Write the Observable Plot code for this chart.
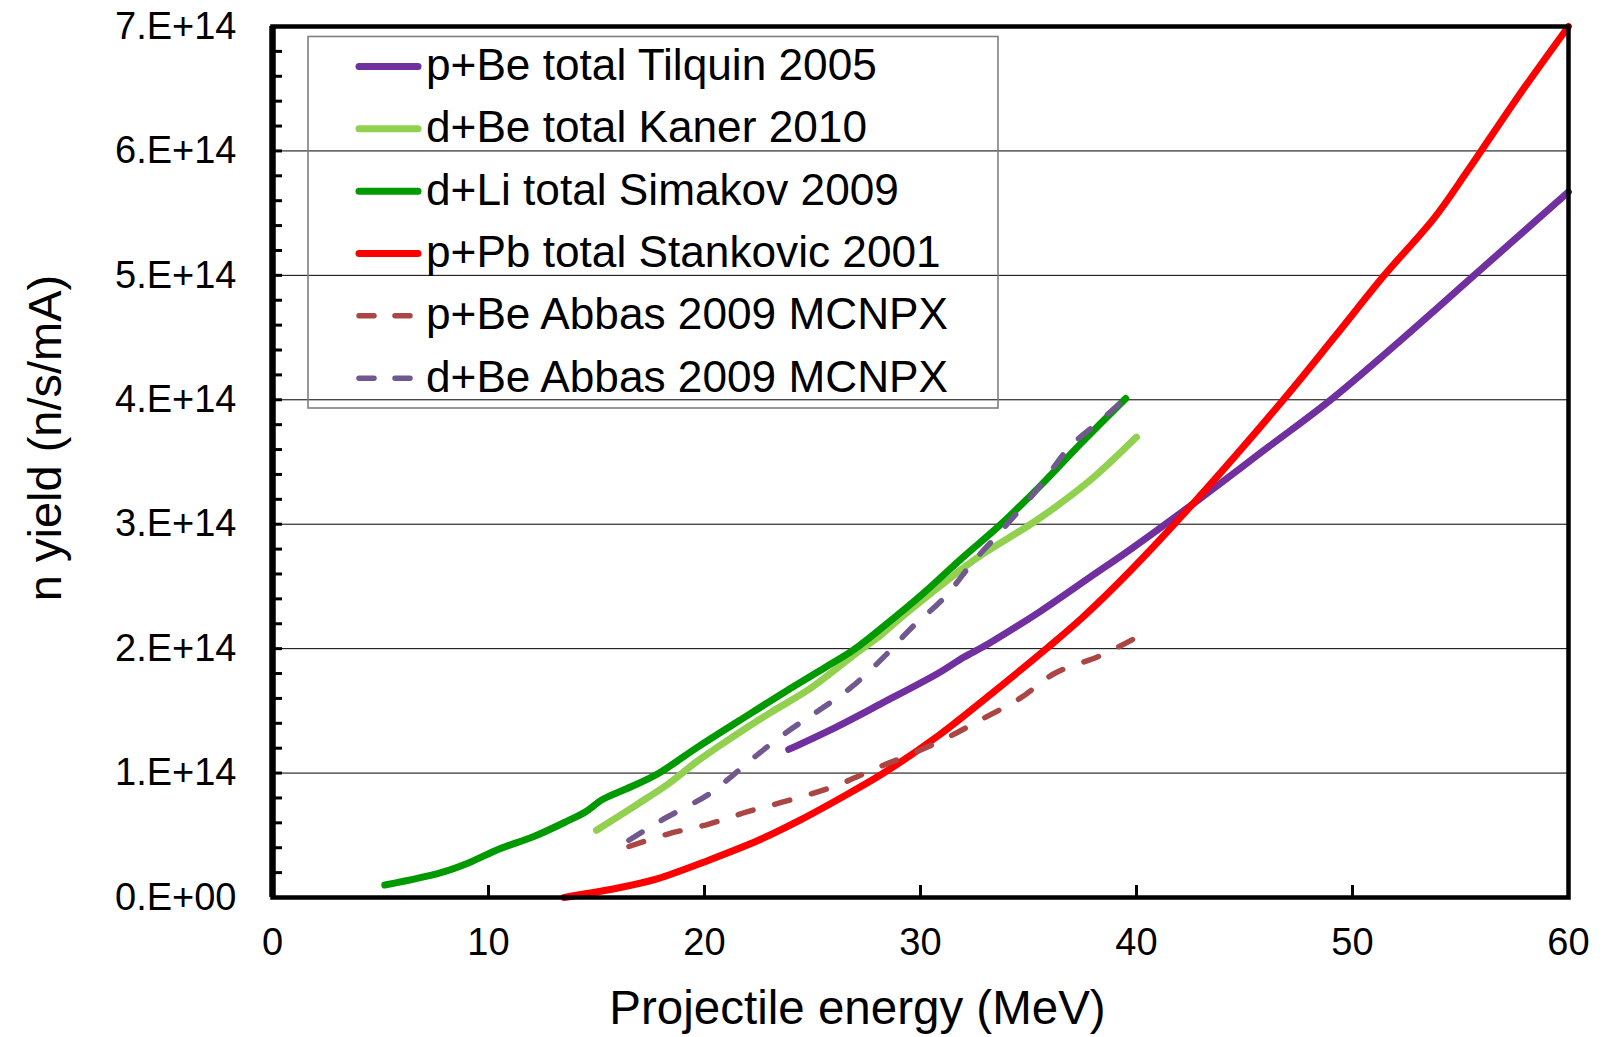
<!DOCTYPE html>
<html><head><meta charset="utf-8">
<script src="https://cdn.jsdelivr.net/npm/d3@7"></script>
<script src="https://cdn.jsdelivr.net/npm/@observablehq/plot@0.6"></script>
<style>
html,body{margin:0;padding:0;background:#fff;}
#wrap{position:relative;width:1605px;height:1037px;font-family:"Liberation Sans",Arial,Helvetica,sans-serif;}
#wrap > svg{position:absolute;left:0;top:0;}
#legend{position:absolute;left:0;top:0;pointer-events:none;}
</style></head>
<body><div id="wrap"></div>
<script>
// ---------- data (energies in MeV, yields in units of 1e14 n/s/mA) ----------
const seriesNames = ["p+Be total Tilquin 2005","d+Be total Kaner 2010","d+Li total Simakov 2009","p+Pb total Stankovic 2001","p+Be Abbas 2009 MCNPX","d+Be Abbas 2009 MCNPX"];
const seriesColors = ["#7030A0","#92D050","#009A00","#FF0000","#AA4643","#71588F"];
const seriesDashed = [false,false,false,false,true,true];

const tilquinE = [23.9,26.1,28.2,30.8,32.0,33.15,35.55,37.9,39.74,42.9,46.1,48.85,52.24,55.63,60];
const tilquinY = [1.19,1.37,1.56,1.80,1.93,2.04,2.30,2.58,2.80,3.20,3.62,3.98,4.48,5.0,5.67];

const kanerE = [15,16.9,18.3,19.7,21.3,23,24.9,27,28.17,29.1,31.25,32.7,35.1,36.5,38.04,40];
const kanerY = [0.54,0.75,0.91,1.1,1.29,1.48,1.68,1.96,2.11,2.25,2.55,2.74,3.0,3.17,3.38,3.7];

const simakovE = [5.2,7.8,9.1,10.5,12.1,13.6,14.5,15.3,16.6,17.8,19.7,21.6,23.7,25.6,26.9,28.3,30.1,32,33.6,35.5,37.43,39.5];
const simakovY = [0.1,0.2,0.28,0.39,0.49,0.61,0.69,0.79,0.89,0.99,1.21,1.42,1.65,1.85,1.99,2.18,2.44,2.74,2.98,3.3,3.65,4.01];

const stankovicE = [13.5,16.1,17.8,20.2,22.5,24.4,26.1,28.2,30.9,33.3,35.9,37.5,39.74,42.9,46.8,49.15,51.47,53.78,55.33,57.64,60];
const stankovicY = [0.0,0.08,0.15,0.3,0.46,0.62,0.78,0.99,1.31,1.64,2.01,2.25,2.63,3.22,4.0,4.5,5.0,5.46,5.84,6.43,7.0];

const abbasPE = [16.5,18.3,20.2,22,23.9,26.1,28.1,29.6,31.3,32.7,34.6,36.2,38.35,40];
const abbasPY = [0.41,0.51,0.59,0.69,0.78,0.9,1.05,1.155,1.29,1.42,1.6,1.8,1.945,2.09];

const abbasDE = [16.5,18,20.2,21.3,22.5,23.9,25.1,26.8,28.4,29.6,31.1,32.45,33.6,35.5,36.9,38.1,39.5];
const abbasDY = [0.46,0.62,0.83,0.98,1.155,1.34,1.48,1.69,1.95,2.17,2.41,2.7,2.92,3.3,3.62,3.8,4.01];

const xTickValues = [0,10,20,30,40,50,60];
const yTickValues = [0,1,2,3,4,5,6,7]; // x 1e14
const yTickLabels = ["0.E+00","1.E+14","2.E+14","3.E+14","4.E+14","5.E+14","6.E+14","7.E+14"];
const xTitle = "Projectile energy (MeV)";
const yTitle = "n yield (n/s/mA)";

// ---------- build ----------
const FONT = '"Liberation Sans", Arial, Helvetica, sans-serif';
const W = 1605, H = 1037;
const mL = 272, mR = 37, mT = 26, mB = 140;
const plotW = W - mL - mR, plotH = H - mT - mB;

const seriesE = [tilquinE, kanerE, simakovE, stankovicE, abbasPE, abbasDE];
const seriesY = [tilquinY, kanerY, simakovY, stankovicY, abbasPY, abbasDY];
const rows = seriesE.flatMap((es, i) => es.map((e, j) => ({series: seriesNames[i], E: e, Y: seriesY[i][j] * 1e14})));

const yMajor = yTickValues.map(v => v * 1e14);
const yMinor = d3.range(0, 36).map(i => i * 0.2e14);

const SOLID_W = 7, DASH_W = 5.5;
const DASH = "15.5,22.5";
const lineMarks = seriesNames.map((name, i) => Plot.line(rows.filter(r => r.series === name), {
  x: "E", y: "Y",
  curve: "catmull-rom",
  stroke: seriesColors[i],
  strokeWidth: seriesDashed[i] ? DASH_W : SOLID_W,
  strokeDasharray: seriesDashed[i] ? DASH : null,
  strokeLinecap: "round", strokeLinejoin: "round"
}));

const chart = Plot.plot({
  width: W, height: H,
  marginLeft: mL, marginRight: mR, marginTop: mT, marginBottom: mB,
  style: {fontFamily: FONT, background: "#fff", color: "#000", overflow: "visible"},
  x: {domain: [0, 60]},
  y: {domain: [0, 7e14]},
  marks: [
    Plot.gridY(yMajor.slice(1, -1), {stroke: "#000", strokeOpacity: 1, strokeWidth: 1}),
    Plot.axisY(yMajor, {tickSize: 0, tickPadding: 36, fontSize: 38, label: null,
      tickFormat: d => yTickLabels[yTickValues.indexOf(Math.round(d / 1e14))]}),
    Plot.axisX(xTickValues, {tickSize: 0, tickPadding: 31, fontSize: 38, label: null}),
    Plot.tickY(yMinor, {y: d => d, stroke: "#000", strokeWidth: 3, insetRight: plotW - 10}),
    Plot.tickX(xTickValues, {x: d => d, stroke: "#000", strokeWidth: 3, insetTop: plotH - 12}),
    ...lineMarks,
    Plot.frame({stroke: "#000", strokeWidth: 4.5}),
    Plot.ruleX([0], {stroke: "#000", strokeWidth: 6.5}),
    Plot.text([xTitle], {frameAnchor: "bottom", dx: -63, dy: 93, lineAnchor: "top", fontSize: 47.5, fill: "#000"})
  ]
});
const wrap = document.getElementById("wrap");
wrap.appendChild(chart);

// ---------- y title and legend (overlay) ----------
const ns = "http://www.w3.org/2000/svg";
const lg = document.createElementNS(ns, "svg");
lg.setAttribute("id", "legend");
lg.setAttribute("width", W); lg.setAttribute("height", H);

const yt = document.createElementNS(ns, "text");
yt.setAttribute("transform", "translate(61,438) rotate(-90)");
yt.setAttribute("text-anchor", "middle");
yt.setAttribute("font-family", FONT); yt.setAttribute("font-size", 47);
yt.setAttribute("fill", "#000");
yt.textContent = yTitle;
lg.appendChild(yt);

const box = document.createElementNS(ns, "rect");
box.setAttribute("x", 308); box.setAttribute("y", 36.5);
box.setAttribute("width", 690); box.setAttribute("height", 371.5);
box.setAttribute("fill", "none"); box.setAttribute("stroke", "#7f7f7f"); box.setAttribute("stroke-width", 1.6);
lg.appendChild(box);
seriesNames.forEach((name, i) => {
  const base = 80 + i * 62.34;
  const ly = base - 13.5;
  const ln = document.createElementNS(ns, "line");
  ln.setAttribute("x1", 359); ln.setAttribute("x2", seriesDashed[i] ? 410 : 418);
  ln.setAttribute("y1", ly); ln.setAttribute("y2", ly);
  ln.setAttribute("stroke", seriesColors[i]);
  ln.setAttribute("stroke-width", seriesDashed[i] ? DASH_W : SOLID_W);
  ln.setAttribute("stroke-linecap", "round");
  if (seriesDashed[i]) ln.setAttribute("stroke-dasharray", "15,21");
  lg.appendChild(ln);
  const t = document.createElementNS(ns, "text");
  t.setAttribute("x", 426); t.setAttribute("y", base);
  t.setAttribute("font-family", FONT); t.setAttribute("font-size", 44.2);
  t.setAttribute("fill", "#000");
  t.textContent = name;
  lg.appendChild(t);
});
wrap.appendChild(lg);
</script>
</body></html>
